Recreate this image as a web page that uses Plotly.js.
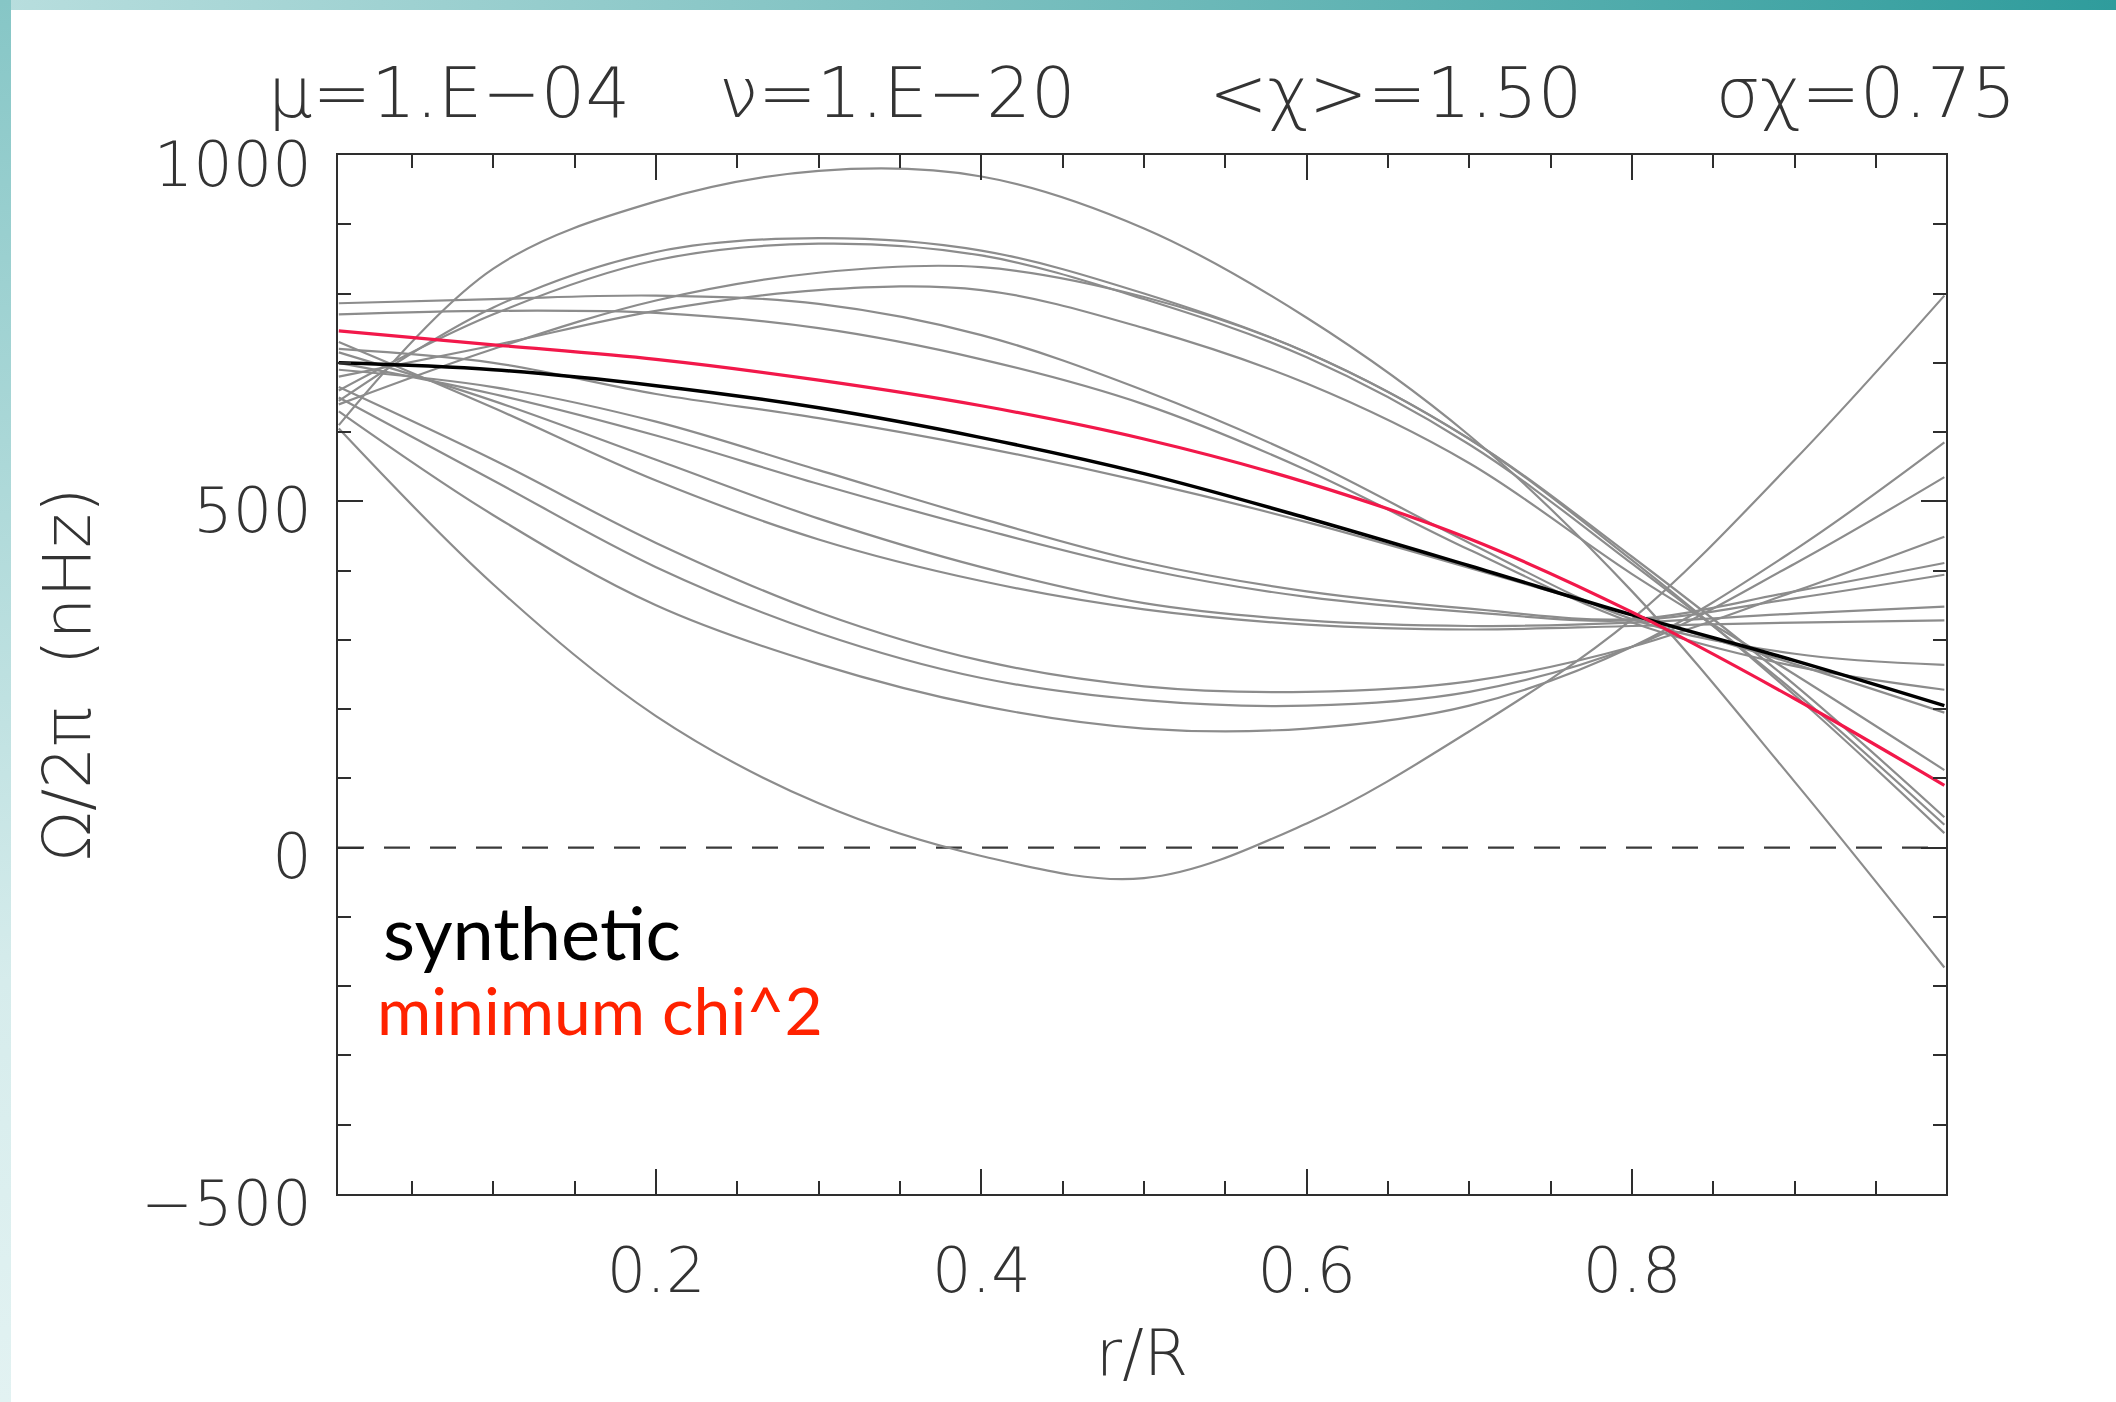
<!DOCTYPE html>
<html>
<head>
<meta charset="utf-8">
<script src="https://cdn.plot.ly/plotly-3.0.1.min.js"></script>
<style>
html, body { margin: 0; padding: 0; background: #ffffff; }
#wrap { position: relative; width: 2116px; height: 1402px; overflow: hidden; background: #ffffff; }
#chart { position: absolute; left: 0; top: 0; width: 2116px; height: 1402px; }
#topbar { position: absolute; left: 0; top: 0; width: 2116px; height: 10px;
  background: linear-gradient(to right, #b8dede, #7cc0c0 45%, #2f9c9c); }
#leftbar { position: absolute; left: 0; top: 0; width: 11px; height: 1402px;
  background: linear-gradient(to bottom, #86c6c6, #d6ecec 70%, #e2f2f2); }
</style>
</head>
<body>
<div id="wrap"><div id="chart"></div><div id="topbar"></div><div id="leftbar"></div></div>
<script>
// radius sample points r/R
const radius = [0.005, 0.1, 0.2, 0.3, 0.4, 0.5, 0.6, 0.7, 0.8, 0.9, 0.992];

// synthetic rotation profile (black) and minimum chi^2 profile (red), nHz
const synthetic = [700, 690, 667, 635, 592, 540, 476, 407, 336, 270, 205];
const minChi2   = [746, 726, 705, 675, 638, 590, 527, 446, 340, 215, 90];

// trial inversion profiles (grey)
const trial01 = [610, 836, 933, 977, 969, 894, 765, 595, 370, 95, -173];
const trial02 = [645, 780, 860, 880, 862, 800, 715, 590, 415, 220, 21];
const trial03 = [660, 770, 848, 872, 855, 792, 708, 582, 410, 225, 33];
const trial04 = [640, 720, 790, 830, 838, 795, 715, 590, 420, 235, 44];
const trial05 = [680, 725, 775, 805, 805, 750, 670, 555, 395, 250, 112];
const trial06 = [786, 792, 797, 785, 740, 660, 560, 440, 330, 280, 264];
const trial07 = [770, 775, 772, 750, 705, 640, 545, 430, 325, 262, 228];
const trial08 = [720, 700, 655, 620, 578, 528, 470, 404, 336, 265, 195];
const trial09 = [605, 380, 190, 64, -12, -44, 35, 168, 330, 560, 797];
const trial10 = [630, 480, 350, 265, 205, 172, 172, 205, 290, 430, 585];
const trial11 = [650, 530, 405, 310, 245, 213, 205, 225, 290, 410, 535];
const trial12 = [665, 560, 440, 340, 270, 233, 225, 240, 290, 370, 449];
const trial13 = [690, 665, 615, 545, 475, 412, 370, 345, 330, 370, 411];
const trial14 = [700, 655, 595, 525, 460, 402, 362, 340, 328, 360, 394];
const trial15 = [715, 645, 560, 475, 405, 353, 328, 320, 325, 338, 348];
const trial16 = [730, 635, 530, 445, 385, 344, 322, 315, 320, 325, 328];

const trials = [trial01, trial02, trial03, trial04, trial05, trial06, trial07, trial08,
                trial09, trial10, trial11, trial12, trial13, trial14, trial15, trial16];

// axis tick settings
const xTickStart = 0, xTickStep = 0.2, xMinorStep = 0.05;
const yTickStart = 0, yTickStep = 500, yMinorStep = 100;
const xRange = [0.0045, 0.993];
const yRange = [-500, 1000];

const axisColor = '#2e2e2e';
const tickFont = {family: 'DejaVu Sans, sans-serif', size: 62, color: '#333333', weight: 300};
const axisTitleFont = {family: 'DejaVu Sans, sans-serif', size: 64, color: '#333333', weight: 300};

const traces = [];
trials.forEach(function (vals, i) {
  traces.push({
    x: radius, y: vals, type: 'scatter', mode: 'lines',
    line: {color: '#8c8c8c', width: 2.2, shape: 'spline', smoothing: 1},
    hoverinfo: 'skip', name: 'trial ' + (i + 1)
  });
});
traces.push({x: radius, y: synthetic, type: 'scatter', mode: 'lines',
  line: {color: '#000000', width: 3.5, shape: 'spline', smoothing: 1}, name: 'synthetic'});
traces.push({x: radius, y: minChi2, type: 'scatter', mode: 'lines',
  line: {color: '#f2184a', width: 3.2, shape: 'spline', smoothing: 1}, name: 'minimum chi^2'});

const nb = '\u00A0';
const titleText = 'μ=1.E−04' + nb.repeat(4) + 'ν=1.E−20' + nb.repeat(6) +
                  '&lt;χ&gt;=1.50' + nb.repeat(6) + 'σχ=0.75';

const layout = {
  width: 2116, height: 1402,
  margin: {l: 338, r: 170, t: 155, b: 208, pad: 0},
  paper_bgcolor: 'rgba(0,0,0,0)',
  plot_bgcolor: '#ffffff',
  showlegend: false,
  font: tickFont,
  title: {
    text: titleText,
    font: {family: 'DejaVu Sans, sans-serif', size: 70, color: '#333333', weight: 300},
    x: 0.5, xref: 'paper', xanchor: 'center',
    y: 1 - 92 / 1402, yref: 'container', yanchor: 'middle'
  },
  xaxis: {
    range: xRange, tick0: xTickStart, dtick: xTickStep, tickformat: '.1f',
    ticks: 'inside', ticklen: 25, tickwidth: 2, tickcolor: axisColor,
    showline: true, linecolor: axisColor, linewidth: 2, mirror: 'ticks',
    showgrid: false, zeroline: false, tickfont: tickFont, ticklabelstandoff: 22,
    minor: {tick0: xTickStart, dtick: xMinorStep, ticks: 'inside', ticklen: 13,
            tickwidth: 2, tickcolor: axisColor, showgrid: false},
    title: {text: 'r/R', font: axisTitleFont, standoff: 24}
  },
  yaxis: {
    range: yRange, tick0: yTickStart, dtick: yTickStep,
    ticks: 'inside', ticklen: 25, tickwidth: 2, tickcolor: axisColor,
    showline: true, linecolor: axisColor, linewidth: 2, mirror: 'ticks',
    showgrid: false, zeroline: false, tickfont: tickFont, ticklabelstandoff: 12,
    ticklabelshift: 9,
    minor: {tick0: yTickStart, dtick: yMinorStep, ticks: 'inside', ticklen: 13,
            tickwidth: 2, tickcolor: axisColor, showgrid: false},
    title: {text: 'Ω/2π' + nb + nb + '(nHz)', font: {family: 'DejaVu Sans, sans-serif', size: 66, color: '#333333', weight: 300}, standoff: 29}
  },
  shapes: [{
    type: 'line', xref: 'paper', x0: 0, x1: 1, yref: 'y', y0: 0, y1: 0,
    line: {color: '#3a3a3a', width: 2.2, dash: '26px,20px'}, layer: 'below'
  }],
  annotations: [
    {text: 'synthetic', xref: 'paper', yref: 'paper', x: 0.0265, y: 0.2522,
     xanchor: 'left', yanchor: 'middle', showarrow: false,
     font: {family: 'Lato, sans-serif', size: 74, color: '#000000', weight: 400}},
    {text: 'minimum chi^2', xref: 'paper', yref: 'paper', x: 0.023, y: 0.1775,
     xanchor: 'left', yanchor: 'middle', showarrow: false,
     font: {family: 'Lato, sans-serif', size: 66, color: '#ff2200', weight: 400}}
  ]
};

Plotly.newPlot('chart', traces, layout, {displayModeBar: false, staticPlot: true});
</script>
</body>
</html>
